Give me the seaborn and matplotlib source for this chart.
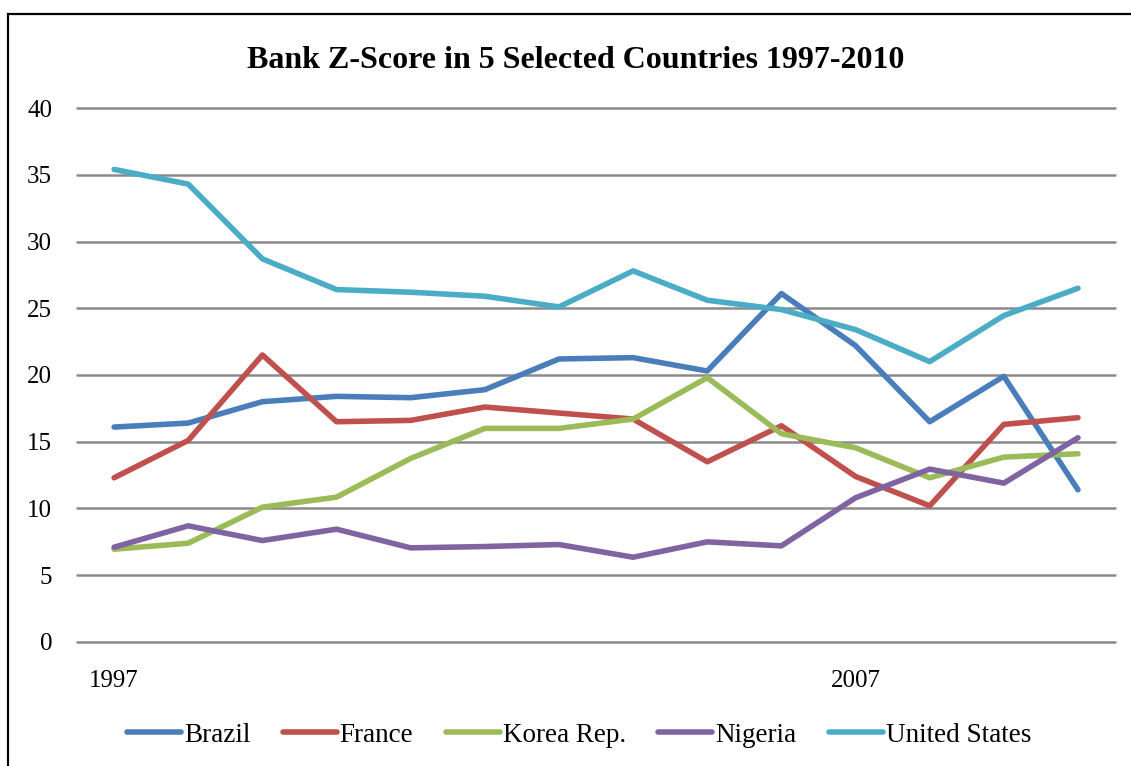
import matplotlib.pyplot as plt
import pandas as pd
import seaborn as sns
from matplotlib.patches import Rectangle

years = list(range(1997, 2011))
brazil = [16.1, 16.4, 18.0, 18.4, 18.3, 18.9, 21.2, 21.3, 20.3, 26.1, 22.2, 16.5, 19.9, 11.4]
france = [12.3, 15.1, 21.5, 16.5, 16.6, 17.6, 17.15, 16.7, 13.5, 16.2, 12.4, 10.2, 16.3, 16.8]
korea = [6.95, 7.4, 10.1, 10.85, 13.75, 16.0, 16.0, 16.7, 19.8, 15.6, 14.55, 12.3, 13.85, 14.1]
nigeria = [7.1, 8.7, 7.6, 8.45, 7.05, 7.15, 7.3, 6.35, 7.5, 7.2, 10.8, 12.95, 11.9, 15.3]
united_states = [35.4, 34.3, 28.7, 26.4, 26.2, 25.9, 25.1, 27.8, 25.6, 24.9, 23.4, 21.0, 24.45, 26.5]
countries = ["Brazil", "France", "Korea Rep.", "Nigeria", "United States"]
colors = ["#4A7EBB", "#C0504D", "#9BBB59", "#8064A2", "#4BACC6"]
shown_years = [1997, 2007]

series = [brazil, france, korea, nigeria, united_states]
df = pd.DataFrame({
    "year": years * len(countries),
    "country": [c for c in countries for _ in years],
    "zscore": [v for s in series for v in s],
})

sns.set_theme(style="white")
plt.rcParams["font.family"] = ["Liberation Serif", "DejaVu Serif"]
plt.rcParams["text.color"] = "black"
plt.rcParams["xtick.color"] = "black"
plt.rcParams["ytick.color"] = "black"

fig = plt.figure(figsize=(11.31, 7.66), dpi=100)
ax = fig.add_axes([0.0681, 0.1619, 0.9178, 0.6971])

sns.lineplot(ax=ax, data=df, x="year", y="zscore", hue="country",
             hue_order=countries, palette=colors, linewidth=4,
             solid_capstyle="round", legend=False)

# horizontal gridlines like the Excel chart
ax.set_ylim(0, 40)
ax.set_yticks(range(0, 41, 5))
ax.set_xlim(1996.5, 2010.5)
ax.set_xticks(shown_years)
ax.grid(axis="y", color="#8a8a8a", linewidth=1.8)
ax.grid(axis="x", visible=False)
ax.set_axisbelow(True)
for gl in ax.get_ygridlines():
    gl.set_clip_on(False)
for s in ax.spines.values():
    s.set_visible(False)
ax.tick_params(axis="y", length=0, pad=18, labelsize=18)
ax.tick_params(axis="x", length=0, pad=20, labelsize=18)
ax.set_xlabel("")
ax.set_ylabel("")

fig.text(0.509, 0.921, "Bank Z-Score in 5 Selected Countries 1997-2010",
         ha="center", va="center", fontsize=23, fontweight="bold")

handles = [plt.Line2D([], [], color=c, linewidth=4, solid_capstyle="round") for c in colors]
fig.legend(handles, countries, loc="center", bbox_to_anchor=(0.512, 0.040),
           ncol=5, frameon=False, fontsize=19.5, handlelength=2.0,
           handletextpad=0.1, columnspacing=1.2)

# chart border (cut off on the right and bottom in the reference)
fig.patches.append(Rectangle((8 / 1131, -0.2), 1.2, 1.2 - 14 / 766,
                             transform=fig.transFigure, fill=False,
                             edgecolor="black", linewidth=1.6))

fig.savefig("out.png", dpi=100)
plt.close()
